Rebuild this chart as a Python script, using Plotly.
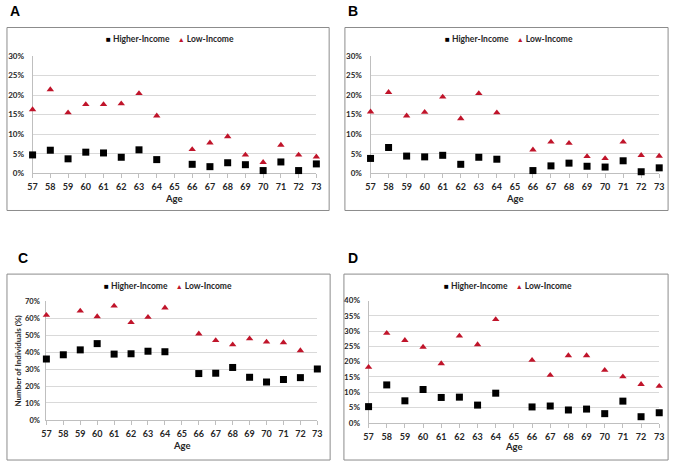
import plotly.graph_objects as go

ages = [57, 58, 59, 60, 61, 62, 63, 64, 66, 67, 68, 69, 70, 71, 72, 73]
age_ticks = list(range(57, 74))

# Panel A
a_high = [4.7, 5.9, 3.7, 5.4, 5.2, 4.1, 6.0, 3.5, 2.3, 1.7, 2.7, 2.2, 0.7, 2.9, 0.7, 2.4]
a_low = [16.3, 21.4, 15.5, 17.6, 17.6, 17.8, 20.4, 14.7, 6.1, 7.8, 9.4, 4.7, 2.8, 7.2, 4.7, 4.2]
# Panel B
b_high = [3.8, 6.6, 4.4, 4.2, 4.6, 2.3, 4.1, 3.6, 0.7, 1.9, 2.6, 1.8, 1.6, 3.2, 0.4, 1.4]
b_low = [15.7, 20.7, 14.7, 15.6, 19.5, 14.0, 20.4, 15.5, 6.0, 8.0, 7.7, 4.3, 3.8, 8.0, 4.6, 4.4]
# Panel C (low-income missing at 58 and 73)
c_high = [36.0, 38.5, 41.4, 45.1, 38.9, 39.1, 40.6, 40.3, 27.4, 27.6, 31.0, 25.2, 22.4, 23.9, 25.0, 30.1]
c_low = [61.9, None, 64.4, 61.1, 67.4, 57.6, 60.7, 66.3, 50.9, 47.0, 44.5, 48.0, 46.1, 45.7, 41.0, None]
# Panel D
d_high = [5.3, 12.4, 7.2, 10.9, 8.3, 8.4, 5.8, 9.7, 5.2, 5.5, 4.2, 4.5, 3.0, 7.1, 2.0, 3.3]
d_low = [18.2, 29.3, 27.0, 24.8, 19.4, 28.4, 25.6, 33.8, 20.5, 15.6, 22.0, 22.0, 17.2, 15.1, 12.6, 12.0]

panel_labels = ["A", "B", "C", "D"]
y_max = [0.30, 0.30, 0.70, 0.40]
y_dtick = [0.05, 0.05, 0.10, 0.05]
series_names = ["Higher-Income", "Low-Income"]
x_title = "Age"
y_title_c = "Number of Individuals (%)"

W, H = 679, 466
def px(x): return x / W
def py(y): return 1 - y / H

# plot areas in pixels: (x0, x1, ytop, ybottom)
areas = [(28, 316, 52, 172), (371, 664, 52, 172), (42, 317, 303, 424), (369, 664, 302, 427)]
boxes = [(2, 329, 23, 210), (345, 673, 23, 210), (2, 330, 275, 465), (344, 673, 275, 465)]
label_pos = [(10, 6), (353, 6), (18, 259), (353, 259)]
legend_pos = [(167, 35), (512, 35), (165, 287), (511, 287)]
age_title_y = [197.5, 197.5, 450, 451]
ystandoff = [6, 6, 4, 6]

data = [(a_high, a_low), (b_high, b_low), (c_high, c_low), (d_high, d_low)]
RED = "#C0142A"
FONT = "Lato"
TXT = "#262626"

fig = go.Figure()
shapes = []
annotations = []
for i in range(4):
    hi, lo = data[i]
    xa = "x" if i == 0 else f"x{i+1}"
    ya = "y" if i == 0 else f"y{i+1}"
    fig.add_trace(go.Scatter(
        x=ages, y=[v / 100 for v in hi], mode="markers", name=series_names[0],
        marker=dict(symbol="square", size=7, color="black"),
        xaxis=xa, yaxis=ya, showlegend=False, cliponaxis=False))
    fig.add_trace(go.Scatter(
        x=ages, y=[None if v is None else v / 100 for v in lo], mode="markers", name=series_names[1],
        marker=dict(symbol="triangle-up", size=6.5, color=RED),
        xaxis=xa, yaxis=ya, showlegend=False, cliponaxis=False))

    x0, x1, yt, yb = areas[i]
    axx = dict(domain=[px(x0), px(x1)], range=[57, 73], tickmode="array",
               tickvals=age_ticks, ticktext=[str(a) for a in age_ticks],
               ticks="outside", ticklen=4, tickcolor="#BFBFBF",
               showline=True, linecolor="#BFBFBF", linewidth=1, showgrid=False,
               zeroline=False, anchor=ya, ticklabelstandoff=1, layer="below traces",
               tickfont=dict(family=FONT, size=9, color=TXT, weight="bold"))
    axy = dict(domain=[py(yb), py(yt)], range=[0, y_max[i]], dtick=y_dtick[i],
               tickformat=".0%", showline=True, linecolor="#BFBFBF", linewidth=1,
               showgrid=True, gridcolor="#D9D9D9", gridwidth=1, zeroline=False,
               ticks="", anchor=xa, ticklabelstandoff=ystandoff[i], layer="below traces",
               tickfont=dict(family=FONT, size=8 if i != 2 else 7.5, color=TXT, weight="bold"))
    key = "" if i == 0 else str(i + 1)
    fig.update_layout(**{f"xaxis{key}": axx, f"yaxis{key}": axy})

    # x-axis title
    annotations.append(dict(text=x_title, xref="paper", yref="paper",
                            x=px((x0 + x1) / 2), y=py(age_title_y[i]),
                            xanchor="center", yanchor="middle", showarrow=False,
                            borderpad=0,
                            font=dict(family=FONT, size=9.5, color=TXT, weight="bold")))
    if i == 2:
        annotations.append(dict(text=y_title_c, xref="paper", yref="paper",
                                x=px(13), y=py((yt + yb) / 2), textangle=-90,
                                xanchor="center", yanchor="middle", showarrow=False,
                                borderpad=0,
                                font=dict(family=FONT, size=8, color=TXT, weight="bold")))

    # legend
    lx, ly = legend_pos[i]
    leg_text = (f"<span style='color:black;font-size:8px'>■</span> {series_names[0]}"
                f"&nbsp;&nbsp;&nbsp;&nbsp;<span style='color:{RED};font-size:7px'>▲</span> {series_names[1]}")
    annotations.append(dict(text=leg_text, xref="paper", yref="paper",
                            x=px(lx), y=py(ly), xanchor="center", yanchor="middle",
                            showarrow=False,
                            font=dict(family=FONT, size=8.5, color=TXT, weight="bold")))

    bx0, bx1, by0, by1 = boxes[i]
    shapes.append(dict(type="rect", xref="paper", yref="paper",
                       x0=px(bx0), x1=px(bx1), y0=py(by1), y1=py(by0),
                       line=dict(color="#8C8C8C", width=1), fillcolor="rgba(0,0,0,0)"))
    lx, ly = label_pos[i]
    annotations.append(dict(text=panel_labels[i], xref="paper", yref="paper",
                            x=px(lx), y=py(ly), xanchor="center", yanchor="middle",
                            showarrow=False,
                            font=dict(family="Liberation Sans", size=14, color="black", weight="bold")))

fig.update_layout(width=W, height=H, margin=dict(l=0, r=0, t=0, b=0),
                  paper_bgcolor="white", plot_bgcolor="white",
                  shapes=shapes, annotations=annotations, showlegend=False)
fig.write_html("out.html", config={"displayModeBar": False},
               post_script="document.body.style.margin='0';document.body.style.padding='0';"
                           "document.body.style.overflow='hidden';"
                           "document.documentElement.style.overflow='hidden';")
